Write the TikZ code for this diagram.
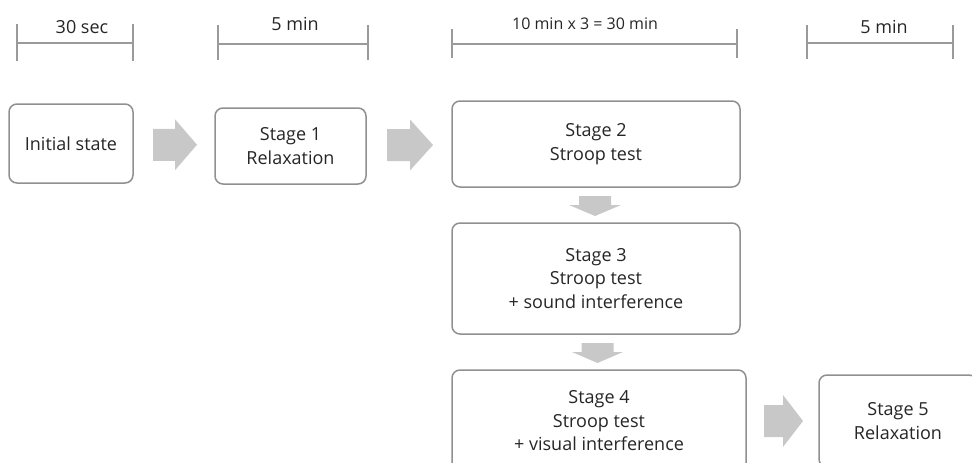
\documentclass[tikz,border=0pt]{standalone}
\usepackage{fontspec}
\setmainfont{Open Sans}
\usetikzlibrary{calc}
\definecolor{arrgray}{HTML}{C8C8C8}
\definecolor{boxgray}{HTML}{909090}
\definecolor{txtgray}{HTML}{262626}
\definecolor{tlgray}{HTML}{9A9A9A}
% right block arrow: center, half length, shaft half width, head half width, head length
\newcommand\rblock[5]{%
  \fill[arr] ($(#1)+(-#2,-#3)$) -- ($(#1)+(#2-#5,-#3)$) -- ($(#1)+(#2-#5,-#4)$) -- ($(#1)+(#2,0)$)
    -- ($(#1)+(#2-#5,#4)$) -- ($(#1)+(#2-#5,#3)$) -- ($(#1)+(-#2,#3)$) -- cycle;}
% down block arrow
\newcommand\dblock[5]{%
  \fill[arr] ($(#1)+(-#3,-#2)$) -- ($(#1)+(-#3,#2-#5)$) -- ($(#1)+(-#4,#2-#5)$) -- ($(#1)+(0,#2)$)
    -- ($(#1)+(#4,#2-#5)$) -- ($(#1)+(#3,#2-#5)$) -- ($(#1)+(#3,-#2)$) -- cycle;}
\begin{document}
\begin{tikzpicture}[x=1pt,y=-1pt,
  stagebox/.style={draw=boxgray, line width=1.5pt, rounded corners=8pt, fill=white,
    text=txtgray, align=center, inner sep=0pt, font=\fontsize{18}{23.5}\selectfont},
  tlbar/.style={draw=tlgray, line width=2.2pt},
  tllabel/.style={text=txtgray, inner sep=0pt, font=\fontsize{18}{22}\selectfont},
  tlsmall/.style={text=txtgray, inner sep=0pt, font=\fontsize{16}{20}\selectfont},
  arr/.style={fill=arrgray}]
\useasboundingbox (0,0) rectangle (972,463);
\clip (0,0) rectangle (972,463);

% timeline bars
\draw[tlbar] (17,24) -- (17,61) (17,43) -- (133,43) (133,24) -- (133,61);
\node[tllabel] (t1) at (82,27) {30 sec};
\draw[tlbar] (218,25) -- (218,60) (218,44) -- (368,44) (368,25) -- (368,60);
\node[tllabel] (t2) at (295,24) {5 min};
\draw[tlbar] (452,29) -- (452,58) (452,44) -- (737,44) (737,29) -- (737,58);
\node[tlsmall] (t3) at (585,24) {10 min x 3 = 30 min};
\draw[tlbar] (807,25) -- (807,59) (807,43) -- (953,43) (953,25) -- (953,59);
\node[tllabel] (t4) at (884,27) {5 min};

% stage boxes
\node[stagebox, minimum width=124, minimum height=79] (init) at (71,143.5) {Initial state};
\node[stagebox, minimum width=151, minimum height=76] (s1) at (290.5,146) {Stage 1\\Relaxation};
\node[stagebox, minimum width=288, minimum height=86] (s2) at (596,144) {Stage 2\\Stroop test};
\node[stagebox, minimum width=288, minimum height=111] (s3) at (596,278.5) {Stage 3\\Stroop test\\+ sound interference};
\node[stagebox, minimum width=294, minimum height=102] (s4) at (599,421) {Stage 4\\Stroop test\\+ visual interference};
\node[stagebox, minimum width=158, minimum height=92] (s5) at (898,421) {Stage 5\\Relaxation};

% block arrows between stages
\coordinate (m1) at ($(init.east)!0.5!(s1.west)+(1,0)$);
\coordinate (m2) at ($(s1.east)!0.5!(s2.west)+(1,0)$);
\coordinate (m23) at ($(s2.south)!0.5!(s3.north)+(-1,1)$);
\coordinate (m34) at ($(s3.south)!0.5!(s4.north)+(0,1)$);
\coordinate (m4) at ($(s4.east)!0.5!(s5.west)+(1,0)$);
\rblock{m1}{22}{16}{25.5}{22}
\rblock{m2}{23}{16}{25.5}{23}
\rblock{m4}{19.5}{16}{26}{20}
\dblock{m23}{10}{16}{26}{11}
\dblock{m34}{10}{16}{25.5}{11}
\end{tikzpicture}
\end{document}
